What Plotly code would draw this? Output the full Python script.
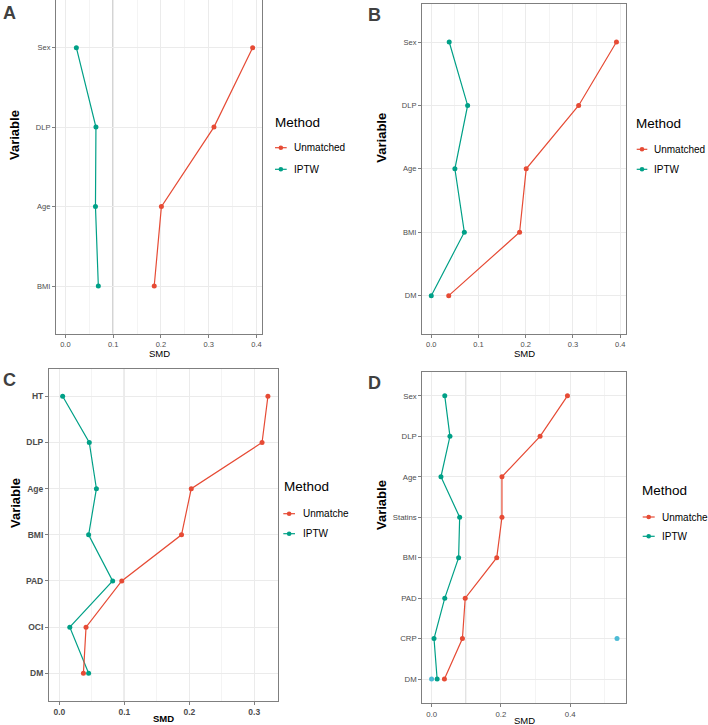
import plotly.graph_objects as go

# ---------------- data ----------------
A_vars = ["Sex", "DLP", "Age", "BMI"]
A_unmatched = [0.392, 0.311, 0.201, 0.186]
A_iptw = [0.023, 0.064, 0.063, 0.069]

B_vars = ["Sex", "DLP", "Age", "BMI", "DM"]
B_unmatched = [0.392, 0.312, 0.201, 0.187, 0.037]
B_iptw = [0.038, 0.077, 0.050, 0.070, 0.000]

C_vars = ["HT", "DLP", "Age", "BMI", "PAD", "OCI", "DM"]
C_unmatched = [0.321, 0.312, 0.203, 0.188, 0.096, 0.041, 0.037]
C_iptw = [0.005, 0.046, 0.057, 0.045, 0.082, 0.016, 0.045]

D_vars = ["Sex", "DLP", "Age", "Statins", "BMI", "PAD", "CRP", "DM"]
D_unmatched = [0.392, 0.313, 0.203, 0.203, 0.188, 0.097, 0.089, 0.037]
D_iptw = [0.038, 0.053, 0.027, 0.081, 0.078, 0.038, 0.007, 0.016]
D_extra_vars = ["CRP", "DM"]
D_extra = [0.535, 0.000]

threshold = 0.1
RED, GREEN, CYAN = "#E64B35", "#00A087", "#4DBBD5"

W, H = 708, 725
def fx(x):
    return x / W
def fy(y):
    return 1 - y / H

FONT = "Liberation Sans, Arial, sans-serif"

panels = [
    dict(letter="A", vars=A_vars, un=A_unmatched, ip=A_iptw, un_name="Unmatched",
         box=(56, 262, 0, 333.7), xr=[-0.0196, 0.4116], dtick=0.1, minor=0.05,
         tick=dict(size=7.5, family=FONT, color="#4D4D4D"), bold=False,
         letter_pos=(9, 13), smd=(159.3, 353.5), var=(14, 135),
         leg=dict(tx=274, ty=122.7, lx0=275, lx1=286.7, tx2=292.7, y1=147.7, y2=169.3)),
    dict(letter="B", vars=B_vars, un=B_unmatched, ip=B_iptw, un_name="Unmatched",
         box=(422, 625.7, 4, 333.7), xr=[-0.0196, 0.4116], dtick=0.1, minor=0.05,
         tick=dict(size=7.5, family=FONT, color="#4D4D4D"), bold=False,
         letter_pos=(374.5, 15), smd=(524, 353.5), var=(381.7, 138),
         leg=dict(tx=634.7, ty=123.3, lx0=636.7, lx1=647.3, tx2=653.3, y1=149.3, y2=169.3)),
    dict(letter="C", vars=C_vars, un=C_unmatched, ip=C_iptw, un_name="Unmatche",
         box=(49, 278.3, 368.6, 701), xr=[-0.016, 0.337], dtick=0.1, minor=0.05,
         tick=dict(size=8.5, family=FONT, color="#4D4D4D", weight="bold"), bold=True,
         letter_pos=(9, 380), smd=(163.5, 718.5), var=(15, 503),
         leg=dict(tx=282.7, ty=486.7, lx0=283.3, lx1=295, tx2=301.7, y1=513.7, y2=533.7)),
    dict(letter="D", vars=D_vars, un=D_unmatched, ip=D_iptw, un_name="Unmatche",
         box=(422.3, 626.3, 371.6, 703.3), xr=[-0.0268, 0.5618], dtick=0.2, minor=0.1,
         tick=dict(size=7.8, family=FONT, color="#4D4D4D"), bold=False,
         letter_pos=(374.5, 383), smd=(524.5, 720), var=(382, 505),
         leg=dict(tx=641.3, ty=490.7, lx0=642.7, lx1=654.7, tx2=661, y1=517, y2=536.3)),
]

fig = go.Figure()
annotations = []
shapes = []
layout_axes = {}

for i, p in enumerate(panels, start=1):
    xa = "x" if i == 1 else f"x{i}"
    ya = "y" if i == 1 else f"y{i}"
    x0, x1, y0, y1 = p["box"]
    n = len(p["vars"])

    fig.add_trace(go.Scatter(x=p["ip"], y=p["vars"], mode="lines+markers", name="IPTW",
                             line=dict(color=GREEN, width=1.2), marker=dict(size=5, color=GREEN),
                             xaxis=xa, yaxis=ya, showlegend=False))
    fig.add_trace(go.Scatter(x=p["un"], y=p["vars"], mode="lines+markers", name=p["un_name"],
                             line=dict(color=RED, width=1.2), marker=dict(size=5, color=RED),
                             xaxis=xa, yaxis=ya, showlegend=False))
    if p["letter"] == "D":
        fig.add_trace(go.Scatter(x=D_extra, y=D_extra_vars, mode="markers", name="Other",
                                 marker=dict(size=5, color=CYAN), xaxis=xa, yaxis=ya,
                                 showlegend=False))

    # reference line at SMD = 0.1
    shapes.append(dict(type="line", xref=xa, yref=f"{ya} domain", x0=threshold, x1=threshold,
                       y0=0, y1=1, line=dict(color="#8C8C8C", width=1), layer="below"))

    xkey = "xaxis" if i == 1 else f"xaxis{i}"
    ykey = "yaxis" if i == 1 else f"yaxis{i}"
    layout_axes[xkey] = dict(
        domain=[fx(x0), fx(x1)], anchor=ya, range=p["xr"], dtick=p["dtick"], tick0=0,
        tickformat=".1f", showgrid=True, gridcolor="#EBEBEB", gridwidth=1,
        minor=dict(showgrid=True, dtick=p["minor"], tick0=0, gridcolor="#F4F4F4", gridwidth=0.6),
        showline=True, mirror=True, linecolor="#7F7F7F", linewidth=1.1,
        ticks="outside", ticklen=3, tickcolor="#7F7F7F", tickwidth=1,
        tickfont=p["tick"], zeroline=False, fixedrange=True,
    )
    layout_axes[ykey] = dict(
        domain=[fy(y1), fy(y0)], anchor=xa, type="category",
        categoryorder="array", categoryarray=list(reversed(p["vars"])),
        range=[-0.6, n - 0.4], showgrid=True, gridcolor="#EBEBEB", gridwidth=1,
        showline=True, mirror=True, linecolor="#7F7F7F", linewidth=1.1,
        ticks="outside", ticklen=3, tickcolor="#7F7F7F", tickwidth=1,
        tickfont=p["tick"], zeroline=False, fixedrange=True,
    )

    # panel letter
    lx, ly = p["letter_pos"]
    annotations.append(dict(text=f"<b>{p['letter']}</b>", x=fx(lx), y=fy(ly), xref="paper", yref="paper",
                            xanchor="center", yanchor="middle", showarrow=False,
                            font=dict(size=18, family=FONT, color="#404040")))
    # axis titles
    sx, sy = p["smd"]
    smd_txt = "<b>SMD</b>" if p["bold"] else "SMD"
    annotations.append(dict(text=smd_txt, x=fx(sx), y=fy(sy), xref="paper", yref="paper",
                            xanchor="center", yanchor="middle", showarrow=False,
                            font=dict(size=9.5, family=FONT, color="black")))
    vx, vy = p["var"]
    annotations.append(dict(text="<b>Variable</b>", x=fx(vx), y=fy(vy), xref="paper", yref="paper",
                            xanchor="center", yanchor="middle", showarrow=False, textangle=-90,
                            font=dict(size=13, family=FONT, color="black")))
    # manual legend
    L = p["leg"]
    annotations.append(dict(text="Method", x=fx(L["tx"] - 1), y=fy(L["ty"]), xref="paper", yref="paper",
                            xanchor="left", yanchor="middle", showarrow=False,
                            font=dict(size=13.5, family=FONT, color="black")))
    for name, col, yy in [(p["un_name"], RED, L["y1"]), ("IPTW", GREEN, L["y2"])]:
        shapes.append(dict(type="line", xref="paper", yref="paper", x0=fx(L["lx0"]), x1=fx(L["lx1"]),
                           y0=fy(yy), y1=fy(yy), line=dict(color=col, width=1.2)))
        cx = (L["lx0"] + L["lx1"]) / 2
        shapes.append(dict(type="circle", xref="paper", yref="paper", xsizemode="pixel", ysizemode="pixel",
                           xanchor=fx(cx), yanchor=fy(yy), x0=-2.3, x1=2.3, y0=-2.3, y1=2.3,
                           fillcolor=col, line=dict(color=col, width=0)))
        annotations.append(dict(text=name, x=fx(L["tx2"] - 1), y=fy(yy), xref="paper", yref="paper",
                                xanchor="left", yanchor="middle", showarrow=False,
                                font=dict(size=10, family=FONT, color="black")))

fig.update_layout(
    width=W, height=H, margin=dict(l=0, r=0, t=0, b=0),
    paper_bgcolor="white", plot_bgcolor="white",
    showlegend=False, annotations=annotations, shapes=shapes,
    font=dict(family=FONT),
    **layout_axes,
)

fig.write_html("out.html", config={"displayModeBar": False})
